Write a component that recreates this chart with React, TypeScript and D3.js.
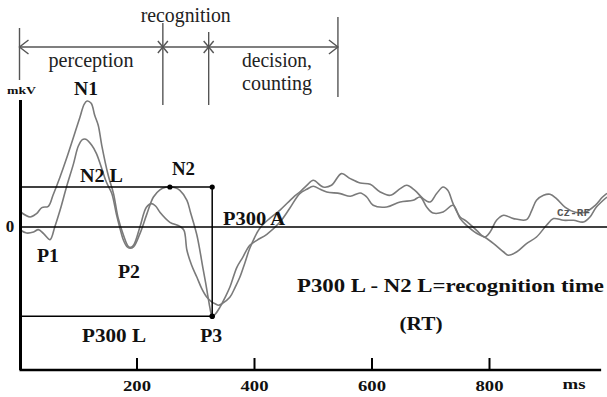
import React from "react";
import * as d3 from "d3";

// Averaged ERP traces (latency in ms, amplitude in µV), two runs at Cz–RF
const erpA: [number, number][] = [
  [2, 1.5], [18, 1.0], [29, 1.34], [38, 1.94], [49, 2.07], [57, 3.17], [69, 5.0], [80, 6.84],
  [92, 9.0], [103, 11.0], [110, 12.27], [115, 12.6], [122, 12.37], [128, 11.17], [134, 10.17],
  [140, 8.17], [151, 5.17], [160, 3.34], [168, 0.87], [177, -0.83], [185, -1.93], [190, -2.03],
  [195, -1.73], [205, 0], [216, 1.97], [225, 2.34], [232, 2.07], [239, 1.47], [256, 0.47],
  [273, 0.07], [280, -0.33], [285, -2.33], [293, -3.83], [302, -5.03], [310, -6.13], [319, -7.03],
  [326, -7.43], [333, -7.68], [339, -7.83], [345, -7.66], [358, -7.03], [367, -6.03], [375, -5.03],
  [384, -3.53], [392, -2.13], [409, -0.13], [426, 0.87], [443, 1.67], [466, 2.97], [477, 3.5],
  [489, 4.17], [500, 4.67], [517, 4.0], [531, 4.17], [548, 5.34], [563, 4.84], [580, 4.4],
  [597, 4.27], [614, 3.5], [631, 3.17], [648, 3.84], [659, 4.17], [673, 3.67], [687, 2.84],
  [699, 2.5], [710, 3.34], [721, 4.0], [729, 3.67], [738, 2.34], [750, 1.0], [761, 0.57],
  [778, -0.33], [792, -1.0], [801, -0.5], [812, 0.67], [824, 1.17], [841, 0.84], [863, 0.74],
  [872, 1.67], [880, 2.67], [892, 3.17], [903, 3.27], [914, 2.84], [929, 1.97], [946, 1.47],
  [963, 1.47], [980, 2.17], [992, 2.97], [1000, 3.37],
];

const erpB: [number, number][] = [
  [2, -0.33], [12, -0.6], [24, -0.5], [32, -0.26], [41, -0.66], [52, -1.26], [60, 0], [69, 1.67],
  [80, 4.0], [92, 6.34], [100, 8.07], [107, 8.74], [113, 8.77], [123, 8.17], [131, 7.34],
  [140, 5.84], [148, 4.47], [157, 3.37], [165, 1.27], [171, -0.13], [177, -1.33], [183, -1.98],
  [188, -2.13], [194, -2.0], [205, -0.66], [217, 1.34], [228, 3.0], [239, 3.72], [249, 3.97],
  [256, 4.0], [265, 3.92], [273, 3.67], [285, 2.67], [291, 1.47], [296, 0.47], [302, -0.83],
  [307, -2.33], [312, -4.03], [317, -5.63], [321, -7.03], [324, -8.03], [328, -8.93], [333, -8.73],
  [341, -8.03], [350, -7.03], [358, -6.03], [370, -4.03], [380, -3.03], [392, -1.83], [404, -1.33],
  [421, -0.73], [443, 0.47], [460, 1.87], [477, 3.34], [489, 3.77], [500, 4.07], [512, 3.77],
  [523, 3.5], [546, 3.34], [563, 3.07], [580, 3.4], [591, 3.0], [602, 2.17], [625, 2.0],
  [648, 2.5], [670, 2.67], [682, 3.0], [693, 2.0], [704, 1.4], [721, 1.5], [738, 2.17],
  [750, 0.84], [761, 0.17], [778, -0.63], [792, -1.03], [807, -1.66], [824, -2.5], [832, -2.83],
  [846, -2.5], [863, -1.66], [880, -1.0], [897, 0.17], [909, 0.84], [926, 0.67], [943, 0.67],
  [960, 0.5], [971, 1.0], [982, 2.0], [1000, 3.0],
];

// x-axis ticks (ms)
const xTicks = [200, 400, 600, 800];

// Processing stages above the plot (ms boundaries)
const phaseBounds = [0, 244, 322, 542];

// Component picks on trace B
const n2Latency = 256;
const p3Latency = 328;

const W = 607;
const H = 397;

const serif = "Liberation Serif, DejaVu Serif, serif";

export default function App() {
  const x = d3.scaleLinear().domain([0, 1000]).range([19.5, 607]);
  const y = d3.scaleLinear().domain([-14.3, 12.7]).range([370, 100]);

  const line = d3
    .line<[number, number]>()
    .x((d) => x(d[0]))
    .y((d) => y(d[1]))
    .curve(d3.curveCatmullRom.alpha(0.5));

  const n2 = erpB.find((d) => d[0] === n2Latency)!;
  const p3 = erpB.find((d) => d[0] === p3Latency)!;

  const x0 = x(0);
  const xN2 = x(n2[0]);
  const xP3 = x(p3[0]);
  const yN2 = y(n2[1]);
  const yP3 = y(p3[1]);
  const yZero = y(0);

  // bracket geometry
  const arrowY = 47;
  const vSpans: [number, number][] = [
    [28, 80],
    [23, 105],
    [32, 105],
    [17, 97],
  ];
  const bx = phaseBounds.map((b) => x(b));
  const bracketColor = "#555";

  const bold = (
    txt: string,
    px: number,
    py: number,
    size: number,
    len?: number,
    anchor: "start" | "middle" = "start"
  ) => (
    <text
      key={txt + px}
      x={px}
      y={py}
      fontFamily={serif}
      fontWeight="bold"
      fontSize={size}
      fill="#111"
      textAnchor={anchor}
      textLength={len}
      lengthAdjust={len ? "spacingAndGlyphs" : undefined}
    >
      {txt}
    </text>
  );

  const plain = (txt: string, px: number, py: number, len: number) => (
    <text
      key={txt}
      x={px}
      y={py}
      fontFamily={serif}
      fontSize={20}
      fill="#222"
      textAnchor="middle"
      textLength={len}
      lengthAdjust="spacingAndGlyphs"
    >
      {txt}
    </text>
  );

  return (
    <svg
      width={W}
      height={H}
      viewBox={`0 0 ${W} ${H}`}
      style={{ position: "absolute", left: 0, top: 0, background: "#fff" }}
    >
      <rect width={W} height={H} fill="#fff" />

      {/* stage bracket */}
      <g stroke={bracketColor} strokeWidth={1.4} fill="none">
        {bx.map((bxi, i) => (
          <line key={i} x1={bxi} x2={bxi} y1={vSpans[i][0]} y2={vSpans[i][1]} />
        ))}
        <line x1={bx[0]} x2={bx[3]} y1={arrowY} y2={arrowY} />
        <path d={`M${bx[0] + 9},${arrowY - 7} L${bx[0]},${arrowY} L${bx[0] + 9},${arrowY + 7}`} />
        <path d={`M${bx[3] - 9},${arrowY - 7} L${bx[3]},${arrowY} L${bx[3] - 9},${arrowY + 7}`} />
        {[bx[1], bx[2]].map((cx, i) => (
          <g key={"c" + i}>
            <line x1={cx - 5} x2={cx + 5} y1={arrowY - 6} y2={arrowY + 6} />
            <line x1={cx - 5} x2={cx + 5} y1={arrowY + 6} y2={arrowY - 6} />
          </g>
        ))}
      </g>
      {plain("recognition", (bx[1] + bx[2]) / 2, 22, 90)}
      {plain("perception", 91, 67, 85)}
      {plain("decision,", 277, 67, 70)}
      {plain("counting", 277, 90, 70)}

      {/* ERP traces */}
      <path d={line(erpA) ?? ""} fill="none" stroke="#7a7a7a" strokeWidth={1.6} />
      <path d={line(erpB) ?? ""} fill="none" stroke="#7a7a7a" strokeWidth={1.6} />

      {/* reference lines */}
      <g stroke="#000" strokeWidth={1.5}>
        <line x1={x0} x2={W} y1={yZero} y2={yZero} />
        <line x1={x0} x2={xP3} y1={yN2} y2={yN2} />
        <line x1={x0} x2={xP3} y1={yP3} y2={yP3} />
        <line x1={xP3} x2={xP3} y1={yN2} y2={yP3} />
      </g>
      <g fill="#000">
        <circle cx={xN2} cy={yN2} r={2.6} />
        <circle cx={xP3} cy={yN2} r={2.6} />
        <circle cx={xP3} cy={yP3} r={2.8} />
      </g>

      {/* axes */}
      <line x1={x0 + 1} x2={x0 + 1} y1={y(12.7)} y2={370} stroke="#000" strokeWidth={3} />
      <line x1={x0} x2={x(990)} y1={370} y2={370} stroke="#000" strokeWidth={2.5} />
      {xTicks.map((t) => (
        <g key={t}>
          <line x1={x(t)} x2={x(t)} y1={370} y2={358} stroke="#000" strokeWidth={2} />
          {bold(String(t), x(t), 391, 15, 28, "middle")}
        </g>
      ))}
      {bold("ms", 574, 389, 15, 23, "middle")}
      {bold("mkV", 7, 94, 11, 29)}
      {bold("0", 10, 232, 17, undefined, "middle")}

      {/* component labels */}
      {bold("N1", 74, 94.5, 18, 24)}
      {bold("N2 L", 80, 182, 19, 43)}
      {bold("N2", 172, 175, 19, 23)}
      {bold("P1", 37, 262, 19, 22)}
      {bold("P2", 118, 278, 19, 22)}
      {bold("P300 A", 223, 225, 19, 62)}
      {bold("P300 L", 82, 342, 19, 64)}
      {bold("P3", xP3 - 1, 342, 19, 22, "middle")}
      {bold("P300 L - N2 L=recognition time", 297, 292, 19, 307)}
      {bold("(RT)", 421, 330, 19, 43, "middle")}

      <text
        x={557}
        y={216}
        fontFamily="Liberation Mono, DejaVu Sans Mono, monospace"
        fontWeight="bold"
        fontSize={11}
        fill="#555"
        textLength={33}
        lengthAdjust="spacingAndGlyphs"
      >
        Cz-RF
      </text>
    </svg>
  );
}
